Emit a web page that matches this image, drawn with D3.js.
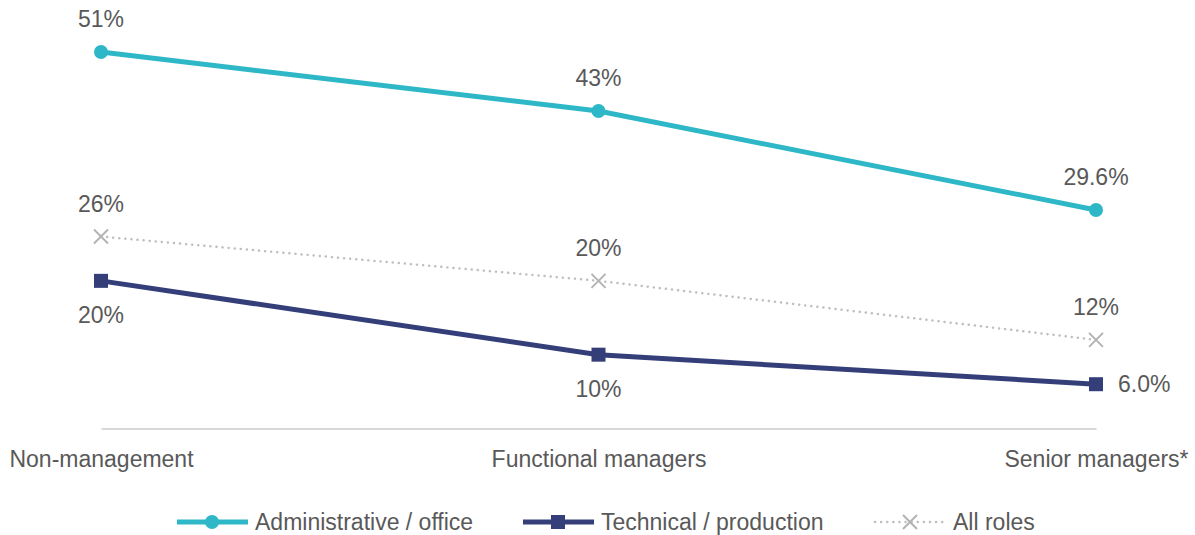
<!DOCTYPE html>
<html>
<head>
<meta charset="utf-8">
<script src="https://cdn.jsdelivr.net/npm/d3@7"></script>
<style>
  html, body { margin: 0; padding: 0; background: #fff; }
  svg text { font-family: "Liberation Sans", Arial, sans-serif; fill: #595959; }
</style>
</head>
<body>
<svg id="chart" width="1195" height="535"></svg>
<script>
// Role levels along the x axis
const categories = ["Non-management", "Functional managers", "Senior managers*"];

// Share of respondents (%) by role type
const adminOffice = [51, 43, 29.6];
const technicalProduction = [20, 10, 6.0];
const allRoles = [26, 20, 12];

// Printed value labels
const adminLabels = ["51%", "43%", "29.6%"];
const technicalLabels = ["20%", "10%", "6.0%"];
const allLabels = ["26%", "20%", "12%"];

const svg = d3.select("#chart");

const x = d3.scalePoint().domain(categories).range([101, 1096]);
const y = d3.scaleLinear().domain([0, 51]).range([428.5, 52]);

// Category axis
const xAxis = d3.axisBottom(x).tickSize(0).tickPadding(0);
const gx = svg.append("g").attr("transform", `translate(0,${y(0)})`).call(xAxis);
gx.select(".domain").attr("stroke", "#d9d9d9").attr("stroke-width", 2);
gx.selectAll("text")
  .attr("y", 30).attr("dy", null).attr("dominant-baseline", "central")
  .style("font-size", "23px").attr("fill", "#595959")
  .style("font-family", "\"Liberation Sans\", Arial, sans-serif");

const series = [
  { key: "admin", name: "Administrative / office", values: adminOffice, labels: adminLabels,
    color: "#2eb8c7", width: 5, dash: null, marker: "circle" },
  { key: "tech", name: "Technical / production", values: technicalProduction, labels: technicalLabels,
    color: "#343f7a", width: 5, dash: null, marker: "square" },
  { key: "all", name: "All roles", values: allRoles, labels: allLabels,
    color: "#bfbfbf", width: 2.5, dash: "0.1 6", marker: "cross" }
];

const line = d3.line().x(d => x(d.c)).y(d => y(d.v));

function drawMarker(g, type, cx, cy, color) {
  if (type === "circle") {
    g.append("circle").attr("cx", cx).attr("cy", cy).attr("r", 7).attr("fill", color);
  } else if (type === "square") {
    g.append("rect").attr("x", cx - 7).attr("y", cy - 7).attr("width", 14).attr("height", 14).attr("fill", color);
  } else {
    const s = 7;
    g.append("path")
      .attr("d", `M${cx - s},${cy - s}L${cx + s},${cy + s}M${cx - s},${cy + s}L${cx + s},${cy - s}`)
      .attr("stroke", "#b3b3b3").attr("stroke-width", 2).attr("fill", "none");
  }
}

// Draw bottom-most series first
[series[2], series[1], series[0]].forEach(s => {
  const pts = categories.map((c, i) => ({ c, v: s.values[i] }));
  const g = svg.append("g").attr("class", "series-" + s.key);
  g.append("path").datum(pts).attr("d", line)
    .attr("fill", "none").attr("stroke", s.color).attr("stroke-width", s.width)
    .attr("stroke-linecap", s.dash ? "round" : "butt")
    .attr("stroke-dasharray", s.dash);
  pts.forEach(p => drawMarker(g, s.marker, x(p.c), y(p.v), s.color));
});

// Value labels
function addLabel(text, px, py, anchor) {
  svg.append("text").attr("x", px).attr("y", py).attr("text-anchor", anchor || "middle")
    .attr("dominant-baseline", "central").style("font-size", "23px").text(text);
}
categories.forEach((c, i) => {
  addLabel(adminLabels[i], x(c), y(adminOffice[i]) - 33);
  addLabel(allLabels[i], x(c), y(allRoles[i]) - 33);
  if (i < 2) addLabel(technicalLabels[i], x(c), y(technicalProduction[i]) + 34);
  else addLabel(technicalLabels[i], x(c) + 22, y(technicalProduction[i]), "start");
});

// Legend
const legendItems = [
  { s: series[0], x0: 177 },
  { s: series[1], x0: 523 },
  { s: series[2], x0: 875 }
];
const ly = 522;
legendItems.forEach(({ s, x0 }) => {
  const g = svg.append("g").attr("class", "legend-" + s.key);
  g.append("line").attr("x1", x0).attr("x2", x0 + 71).attr("y1", ly).attr("y2", ly)
    .attr("stroke", s.color).attr("stroke-width", s.width)
    .attr("stroke-linecap", s.dash ? "round" : "butt")
    .attr("stroke-dasharray", s.dash);
  drawMarker(g, s.marker, x0 + 35, ly, s.color);
  g.append("text").attr("x", x0 + 78).attr("y", ly).attr("dominant-baseline", "central")
    .style("font-size", "23px").text(s.name);
});
</script>
</body>
</html>
